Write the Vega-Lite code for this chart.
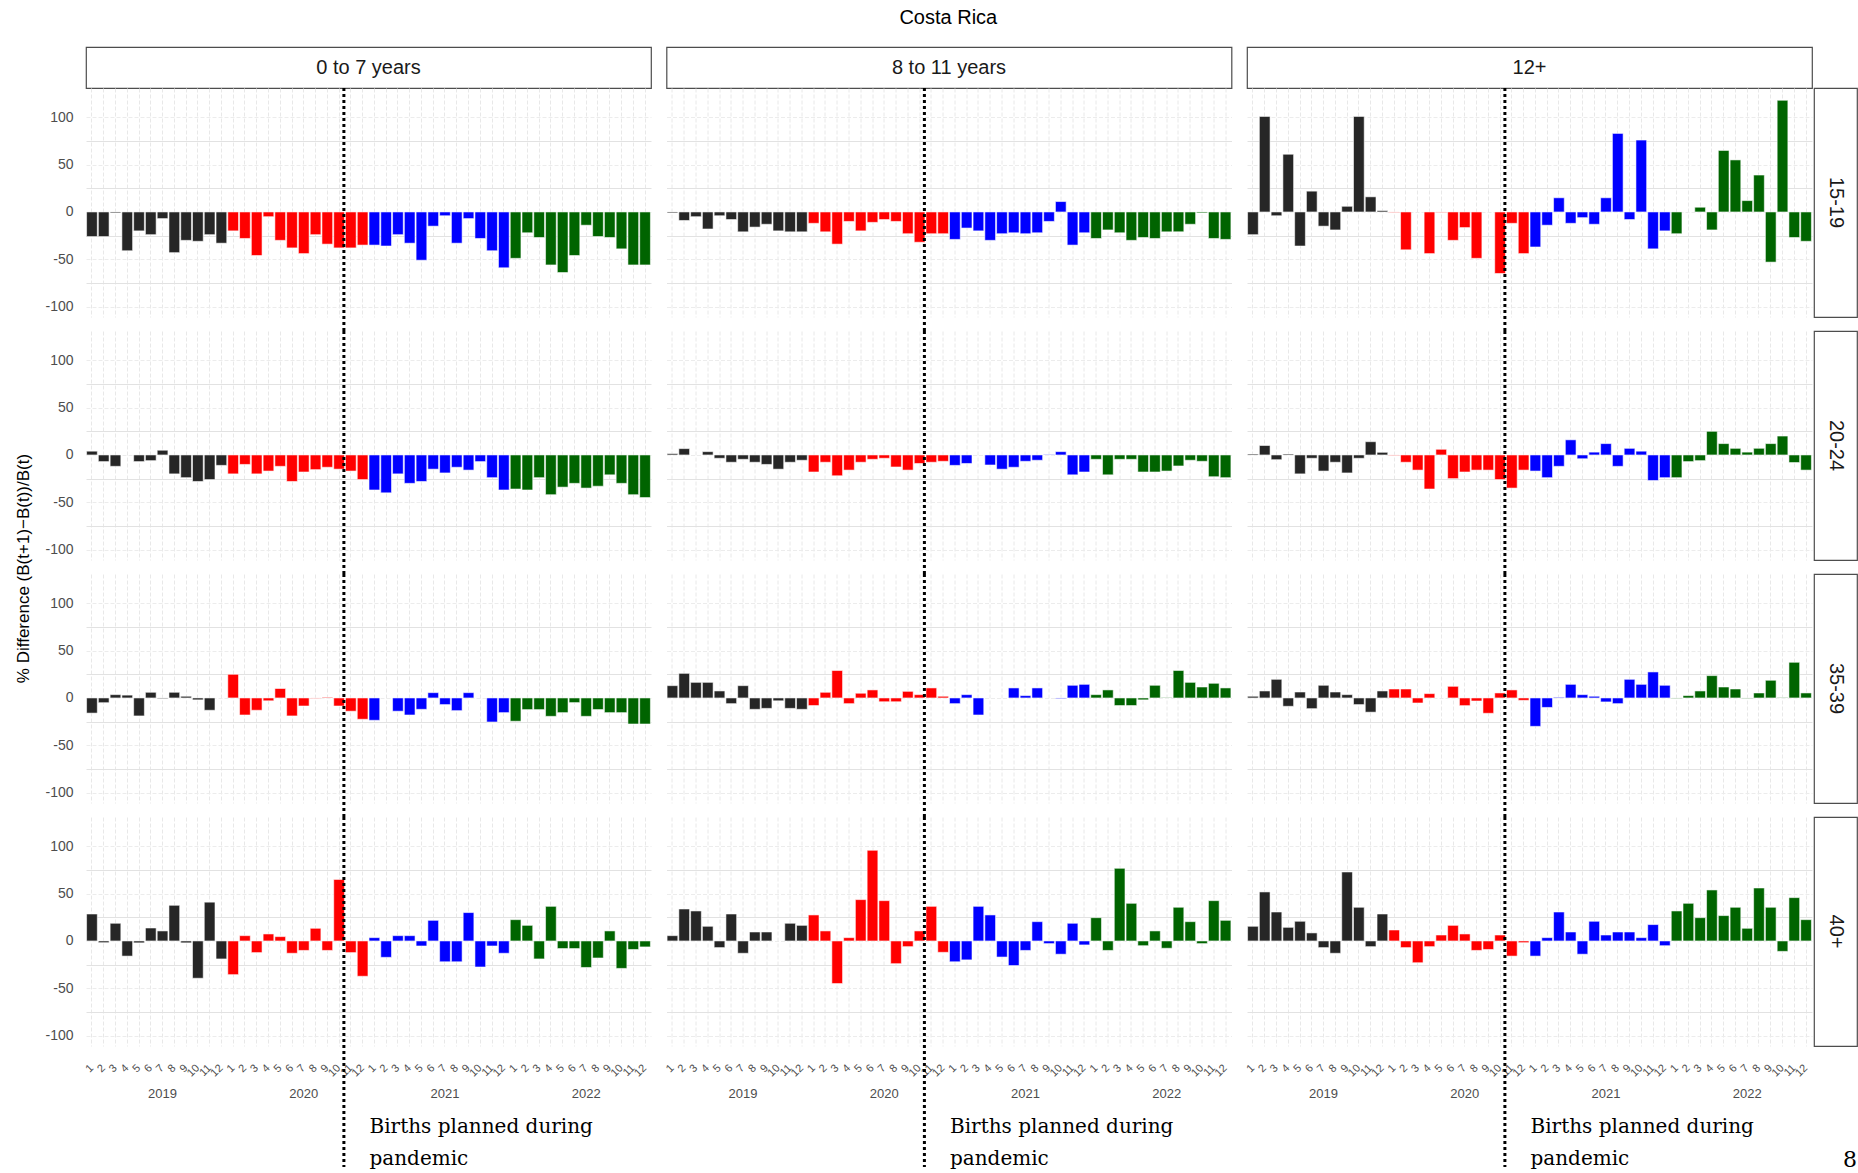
{
"$schema":"https://vega.github.io/schema/vega-lite/v6.json",
"background":"white",
"padding":{"left":14,"top":8,"right":0,"bottom":0},
"title":{"text":"Costa Rica","fontSize":20,"anchor":"middle","dx":12,"offset":18},
"config":{
"view":{"stroke":null},
"font":"Liberation Sans",
"axis":{"domain":false,"ticks":false,"labelColor":"#4d4d4d","labelFont":"Liberation Sans","gridColor":"#ebebeb","gridWidth":1,"labelOverlap":false,"labelBound":false,"labelFlush":false},
"title":{"font":"Liberation Sans","fontWeight":"normal","color":"#000000"}
},
"datasets":{
"p11":[{"m":"2019-01","yr":"2019","v":-26},{"m":"2019-02","yr":"2019","v":-26},{"m":"2019-03","yr":"2019","v":-1},{"m":"2019-04","yr":"2019","v":-41},{"m":"2019-05","yr":"2019","v":-20},{"m":"2019-06","yr":"2019","v":-24},{"m":"2019-07","yr":"2019","v":-7},{"m":"2019-08","yr":"2019","v":-43},{"m":"2019-09","yr":"2019","v":-30},{"m":"2019-10","yr":"2019","v":-31},{"m":"2019-11","yr":"2019","v":-24},{"m":"2019-12","yr":"2019","v":-33},
{"m":"2020-01","yr":"2020","v":-20},{"m":"2020-02","yr":"2020","v":-28},{"m":"2020-03","yr":"2020","v":-46},{"m":"2020-04","yr":"2020","v":-5},{"m":"2020-05","yr":"2020","v":-30},{"m":"2020-06","yr":"2020","v":-38},{"m":"2020-07","yr":"2020","v":-44},{"m":"2020-08","yr":"2020","v":-24},{"m":"2020-09","yr":"2020","v":-34},{"m":"2020-10","yr":"2020","v":-38},{"m":"2020-11","yr":"2020","v":-38},{"m":"2020-12","yr":"2020","v":-35},
{"m":"2021-01","yr":"2021","v":-35},{"m":"2021-02","yr":"2021","v":-36},{"m":"2021-03","yr":"2021","v":-24},{"m":"2021-04","yr":"2021","v":-33},{"m":"2021-05","yr":"2021","v":-51},{"m":"2021-06","yr":"2021","v":-15},{"m":"2021-07","yr":"2021","v":-4},{"m":"2021-08","yr":"2021","v":-33},{"m":"2021-09","yr":"2021","v":-7},{"m":"2021-10","yr":"2021","v":-28},{"m":"2021-11","yr":"2021","v":-41},{"m":"2021-12","yr":"2021","v":-59},
{"m":"2022-01","yr":"2022","v":-49},{"m":"2022-02","yr":"2022","v":-22},{"m":"2022-03","yr":"2022","v":-27},{"m":"2022-04","yr":"2022","v":-56},{"m":"2022-05","yr":"2022","v":-64},{"m":"2022-06","yr":"2022","v":-46},{"m":"2022-07","yr":"2022","v":-14},{"m":"2022-08","yr":"2022","v":-26},{"m":"2022-09","yr":"2022","v":-27},{"m":"2022-10","yr":"2022","v":-39},{"m":"2022-11","yr":"2022","v":-56},{"m":"2022-12","yr":"2022","v":-56}],
"p12":[{"m":"2019-01","yr":"2019","v":-1},{"m":"2019-02","yr":"2019","v":-9},{"m":"2019-03","yr":"2019","v":-5},{"m":"2019-04","yr":"2019","v":-18},{"m":"2019-05","yr":"2019","v":-4},{"m":"2019-06","yr":"2019","v":-8},{"m":"2019-07","yr":"2019","v":-21},{"m":"2019-08","yr":"2019","v":-16},{"m":"2019-09","yr":"2019","v":-13},{"m":"2019-10","yr":"2019","v":-20},{"m":"2019-11","yr":"2019","v":-21},{"m":"2019-12","yr":"2019","v":-21},
{"m":"2020-01","yr":"2020","v":-12},{"m":"2020-02","yr":"2020","v":-21},{"m":"2020-03","yr":"2020","v":-34},{"m":"2020-04","yr":"2020","v":-10},{"m":"2020-05","yr":"2020","v":-20},{"m":"2020-06","yr":"2020","v":-11},{"m":"2020-07","yr":"2020","v":-8},{"m":"2020-08","yr":"2020","v":-10},{"m":"2020-09","yr":"2020","v":-23},{"m":"2020-10","yr":"2020","v":-32},{"m":"2020-11","yr":"2020","v":-23},{"m":"2020-12","yr":"2020","v":-23},
{"m":"2021-01","yr":"2021","v":-29},{"m":"2021-02","yr":"2021","v":-17},{"m":"2021-03","yr":"2021","v":-20},{"m":"2021-04","yr":"2021","v":-30},{"m":"2021-05","yr":"2021","v":-23},{"m":"2021-06","yr":"2021","v":-22},{"m":"2021-07","yr":"2021","v":-23},{"m":"2021-08","yr":"2021","v":-22},{"m":"2021-09","yr":"2021","v":-10},{"m":"2021-10","yr":"2021","v":11},{"m":"2021-11","yr":"2021","v":-35},{"m":"2021-12","yr":"2021","v":-22},
{"m":"2022-01","yr":"2022","v":-28},{"m":"2022-02","yr":"2022","v":-19},{"m":"2022-03","yr":"2022","v":-22},{"m":"2022-04","yr":"2022","v":-30},{"m":"2022-05","yr":"2022","v":-27},{"m":"2022-06","yr":"2022","v":-28},{"m":"2022-07","yr":"2022","v":-21},{"m":"2022-08","yr":"2022","v":-21},{"m":"2022-09","yr":"2022","v":-13},{"m":"2022-10","yr":"2022","v":-1},{"m":"2022-11","yr":"2022","v":-28},{"m":"2022-12","yr":"2022","v":-29}],
"p13":[{"m":"2019-01","yr":"2019","v":-24},{"m":"2019-02","yr":"2019","v":101},{"m":"2019-03","yr":"2019","v":-4},{"m":"2019-04","yr":"2019","v":61},{"m":"2019-05","yr":"2019","v":-36},{"m":"2019-06","yr":"2019","v":22},{"m":"2019-07","yr":"2019","v":-15},{"m":"2019-08","yr":"2019","v":-19},{"m":"2019-09","yr":"2019","v":6},{"m":"2019-10","yr":"2019","v":101},{"m":"2019-11","yr":"2019","v":16},{"m":"2019-12","yr":"2019","v":1.4},
{"m":"2020-01","yr":"2020","v":-0.5},{"m":"2020-02","yr":"2020","v":-40},{"m":"2020-04","yr":"2020","v":-44},{"m":"2020-05","yr":"2020","v":-0.5},{"m":"2020-06","yr":"2020","v":-30},{"m":"2020-07","yr":"2020","v":-16.5},{"m":"2020-08","yr":"2020","v":-49},{"m":"2020-10","yr":"2020","v":-65},{"m":"2020-11","yr":"2020","v":-12},{"m":"2020-12","yr":"2020","v":-44},
{"m":"2021-01","yr":"2021","v":-37},{"m":"2021-02","yr":"2021","v":-14},{"m":"2021-03","yr":"2021","v":15},{"m":"2021-04","yr":"2021","v":-12},{"m":"2021-05","yr":"2021","v":-6},{"m":"2021-06","yr":"2021","v":-13},{"m":"2021-07","yr":"2021","v":15},{"m":"2021-08","yr":"2021","v":83},{"m":"2021-09","yr":"2021","v":-8},{"m":"2021-10","yr":"2021","v":76},{"m":"2021-11","yr":"2021","v":-39},{"m":"2021-12","yr":"2021","v":-20},
{"m":"2022-01","yr":"2022","v":-23},{"m":"2022-03","yr":"2022","v":5},{"m":"2022-04","yr":"2022","v":-19},{"m":"2022-05","yr":"2022","v":65},{"m":"2022-06","yr":"2022","v":55},{"m":"2022-07","yr":"2022","v":12},{"m":"2022-08","yr":"2022","v":39},{"m":"2022-09","yr":"2022","v":-53},{"m":"2022-10","yr":"2022","v":118},{"m":"2022-11","yr":"2022","v":-27},{"m":"2022-12","yr":"2022","v":-31}],
"p21":[{"m":"2019-01","yr":"2019","v":4},{"m":"2019-02","yr":"2019","v":-7},{"m":"2019-03","yr":"2019","v":-12},{"m":"2019-05","yr":"2019","v":-7},{"m":"2019-06","yr":"2019","v":-6},{"m":"2019-07","yr":"2019","v":5},{"m":"2019-08","yr":"2019","v":-20},{"m":"2019-09","yr":"2019","v":-24},{"m":"2019-10","yr":"2019","v":-28},{"m":"2019-11","yr":"2019","v":-26},{"m":"2019-12","yr":"2019","v":-11},
{"m":"2020-01","yr":"2020","v":-20},{"m":"2020-02","yr":"2020","v":-10},{"m":"2020-03","yr":"2020","v":-20},{"m":"2020-04","yr":"2020","v":-17},{"m":"2020-05","yr":"2020","v":-12},{"m":"2020-06","yr":"2020","v":-28},{"m":"2020-07","yr":"2020","v":-18},{"m":"2020-08","yr":"2020","v":-15.5},{"m":"2020-09","yr":"2020","v":-13},{"m":"2020-10","yr":"2020","v":-15},{"m":"2020-11","yr":"2020","v":-17},{"m":"2020-12","yr":"2020","v":-26},
{"m":"2021-01","yr":"2021","v":-37},{"m":"2021-02","yr":"2021","v":-40},{"m":"2021-03","yr":"2021","v":-20},{"m":"2021-04","yr":"2021","v":-30},{"m":"2021-05","yr":"2021","v":-28},{"m":"2021-06","yr":"2021","v":-15},{"m":"2021-07","yr":"2021","v":-19},{"m":"2021-08","yr":"2021","v":-13},{"m":"2021-09","yr":"2021","v":-16},{"m":"2021-10","yr":"2021","v":-7},{"m":"2021-11","yr":"2021","v":-24},{"m":"2021-12","yr":"2021","v":-37},
{"m":"2022-01","yr":"2022","v":-36},{"m":"2022-02","yr":"2022","v":-37},{"m":"2022-03","yr":"2022","v":-24},{"m":"2022-04","yr":"2022","v":-42},{"m":"2022-05","yr":"2022","v":-34},{"m":"2022-06","yr":"2022","v":-30},{"m":"2022-07","yr":"2022","v":-35},{"m":"2022-08","yr":"2022","v":-33},{"m":"2022-09","yr":"2022","v":-21},{"m":"2022-10","yr":"2022","v":-30},{"m":"2022-11","yr":"2022","v":-42},{"m":"2022-12","yr":"2022","v":-45}],
"p22":[{"m":"2019-01","yr":"2019","v":1.4},{"m":"2019-02","yr":"2019","v":6.7},{"m":"2019-04","yr":"2019","v":3.5},{"m":"2019-05","yr":"2019","v":-3.5},{"m":"2019-06","yr":"2019","v":-7.7},{"m":"2019-07","yr":"2019","v":-4.6},{"m":"2019-08","yr":"2019","v":-7.7},{"m":"2019-09","yr":"2019","v":-10},{"m":"2019-10","yr":"2019","v":-15},{"m":"2019-11","yr":"2019","v":-7.7},{"m":"2019-12","yr":"2019","v":-5.6},
{"m":"2020-01","yr":"2020","v":-18},{"m":"2020-02","yr":"2020","v":-7.7},{"m":"2020-03","yr":"2020","v":-22},{"m":"2020-04","yr":"2020","v":-16},{"m":"2020-05","yr":"2020","v":-7.7},{"m":"2020-06","yr":"2020","v":-4.6},{"m":"2020-07","yr":"2020","v":-3.5},{"m":"2020-08","yr":"2020","v":-12.7},{"m":"2020-09","yr":"2020","v":-16},{"m":"2020-10","yr":"2020","v":-9},{"m":"2020-11","yr":"2020","v":-7.7},{"m":"2020-12","yr":"2020","v":-6.7},
{"m":"2021-01","yr":"2021","v":-11},{"m":"2021-02","yr":"2021","v":-9},{"m":"2021-04","yr":"2021","v":-10.6},{"m":"2021-05","yr":"2021","v":-15},{"m":"2021-06","yr":"2021","v":-13},{"m":"2021-07","yr":"2021","v":-6.7},{"m":"2021-08","yr":"2021","v":-5.6},{"m":"2021-09","yr":"2021","v":0.5},{"m":"2021-10","yr":"2021","v":3.5},{"m":"2021-11","yr":"2021","v":-21},{"m":"2021-12","yr":"2021","v":-18},
{"m":"2022-01","yr":"2022","v":-4.6},{"m":"2022-02","yr":"2022","v":-21},{"m":"2022-03","yr":"2022","v":-4.6},{"m":"2022-04","yr":"2022","v":-4.6},{"m":"2022-05","yr":"2022","v":-18},{"m":"2022-06","yr":"2022","v":-18},{"m":"2022-07","yr":"2022","v":-17},{"m":"2022-08","yr":"2022","v":-11.6},{"m":"2022-09","yr":"2022","v":-5.6},{"m":"2022-10","yr":"2022","v":-6.7},{"m":"2022-11","yr":"2022","v":-23},{"m":"2022-12","yr":"2022","v":-24}],
"p23":[{"m":"2019-01","yr":"2019","v":1},{"m":"2019-02","yr":"2019","v":10},{"m":"2019-03","yr":"2019","v":-5},{"m":"2019-04","yr":"2019","v":1},{"m":"2019-05","yr":"2019","v":-20},{"m":"2019-06","yr":"2019","v":-3.5},{"m":"2019-07","yr":"2019","v":-17},{"m":"2019-08","yr":"2019","v":-7.7},{"m":"2019-09","yr":"2019","v":-19},{"m":"2019-10","yr":"2019","v":-3.5},{"m":"2019-11","yr":"2019","v":14},{"m":"2019-12","yr":"2019","v":2.8},
{"m":"2020-01","yr":"2020","v":-0.5},{"m":"2020-02","yr":"2020","v":-7.7},{"m":"2020-03","yr":"2020","v":-16},{"m":"2020-04","yr":"2020","v":-36},{"m":"2020-05","yr":"2020","v":6},{"m":"2020-06","yr":"2020","v":-25},{"m":"2020-07","yr":"2020","v":-18},{"m":"2020-08","yr":"2020","v":-16},{"m":"2020-09","yr":"2020","v":-16},{"m":"2020-10","yr":"2020","v":-26},{"m":"2020-11","yr":"2020","v":-35},{"m":"2020-12","yr":"2020","v":-16},
{"m":"2021-01","yr":"2021","v":-17},{"m":"2021-02","yr":"2021","v":-24},{"m":"2021-03","yr":"2021","v":-12},{"m":"2021-04","yr":"2021","v":16},{"m":"2021-05","yr":"2021","v":-4},{"m":"2021-06","yr":"2021","v":3},{"m":"2021-07","yr":"2021","v":12},{"m":"2021-08","yr":"2021","v":-12},{"m":"2021-09","yr":"2021","v":7},{"m":"2021-10","yr":"2021","v":4},{"m":"2021-11","yr":"2021","v":-27},{"m":"2021-12","yr":"2021","v":-24},
{"m":"2022-01","yr":"2022","v":-24},{"m":"2022-02","yr":"2022","v":-7},{"m":"2022-03","yr":"2022","v":-6},{"m":"2022-04","yr":"2022","v":25},{"m":"2022-05","yr":"2022","v":12},{"m":"2022-06","yr":"2022","v":7},{"m":"2022-07","yr":"2022","v":3},{"m":"2022-08","yr":"2022","v":7},{"m":"2022-09","yr":"2022","v":12},{"m":"2022-10","yr":"2022","v":20},{"m":"2022-11","yr":"2022","v":-8},{"m":"2022-12","yr":"2022","v":-16}],
"p31":[{"m":"2019-01","yr":"2019","v":-16},{"m":"2019-02","yr":"2019","v":-5},{"m":"2019-03","yr":"2019","v":3.5},{"m":"2019-04","yr":"2019","v":3},{"m":"2019-05","yr":"2019","v":-19},{"m":"2019-06","yr":"2019","v":6},{"m":"2019-07","yr":"2019","v":-0.7},{"m":"2019-08","yr":"2019","v":6},{"m":"2019-09","yr":"2019","v":1.8},{"m":"2019-10","yr":"2019","v":-2},{"m":"2019-11","yr":"2019","v":-13},
{"m":"2020-01","yr":"2020","v":25},{"m":"2020-02","yr":"2020","v":-18},{"m":"2020-03","yr":"2020","v":-13},{"m":"2020-04","yr":"2020","v":-3},{"m":"2020-05","yr":"2020","v":10},{"m":"2020-06","yr":"2020","v":-19},{"m":"2020-07","yr":"2020","v":-8.5},{"m":"2020-08","yr":"2020","v":-0.4},{"m":"2020-09","yr":"2020","v":0.7},{"m":"2020-10","yr":"2020","v":-8.5},{"m":"2020-11","yr":"2020","v":-14},{"m":"2020-12","yr":"2020","v":-22.5},
{"m":"2021-01","yr":"2021","v":-23.6},{"m":"2021-03","yr":"2021","v":-14},{"m":"2021-04","yr":"2021","v":-18},{"m":"2021-05","yr":"2021","v":-12},{"m":"2021-06","yr":"2021","v":5.6},{"m":"2021-07","yr":"2021","v":-7},{"m":"2021-08","yr":"2021","v":-13.4},{"m":"2021-09","yr":"2021","v":5.6},{"m":"2021-11","yr":"2021","v":-25.4},{"m":"2021-12","yr":"2021","v":-15.5},
{"m":"2022-01","yr":"2022","v":-24.6},{"m":"2022-02","yr":"2022","v":-12.3},{"m":"2022-03","yr":"2022","v":-12.3},{"m":"2022-04","yr":"2022","v":-19.4},{"m":"2022-05","yr":"2022","v":-15.5},{"m":"2022-06","yr":"2022","v":-4.9},{"m":"2022-07","yr":"2022","v":-19.4},{"m":"2022-08","yr":"2022","v":-12.3},{"m":"2022-09","yr":"2022","v":-15.5},{"m":"2022-10","yr":"2022","v":-15.5},{"m":"2022-11","yr":"2022","v":-27.5},{"m":"2022-12","yr":"2022","v":-27.5}],
"p32":[{"m":"2019-01","yr":"2019","v":13},{"m":"2019-02","yr":"2019","v":26},{"m":"2019-03","yr":"2019","v":16.5},{"m":"2019-04","yr":"2019","v":16.5},{"m":"2019-05","yr":"2019","v":7.4},{"m":"2019-06","yr":"2019","v":-6},{"m":"2019-07","yr":"2019","v":13},{"m":"2019-08","yr":"2019","v":-12},{"m":"2019-09","yr":"2019","v":-11},{"m":"2019-10","yr":"2019","v":-3},{"m":"2019-11","yr":"2019","v":-11},{"m":"2019-12","yr":"2019","v":-12},
{"m":"2020-01","yr":"2020","v":-8},{"m":"2020-02","yr":"2020","v":6},{"m":"2020-03","yr":"2020","v":29},{"m":"2020-04","yr":"2020","v":-6},{"m":"2020-05","yr":"2020","v":5},{"m":"2020-06","yr":"2020","v":8.5},{"m":"2020-07","yr":"2020","v":-4},{"m":"2020-08","yr":"2020","v":-4},{"m":"2020-09","yr":"2020","v":7},{"m":"2020-10","yr":"2020","v":3.5},{"m":"2020-11","yr":"2020","v":10.6},{"m":"2020-12","yr":"2020","v":1.8},
{"m":"2021-01","yr":"2021","v":-6},{"m":"2021-02","yr":"2021","v":3.5},{"m":"2021-03","yr":"2021","v":-18},{"m":"2021-06","yr":"2021","v":10.6},{"m":"2021-07","yr":"2021","v":2.5},{"m":"2021-08","yr":"2021","v":10.6},{"m":"2021-10","yr":"2021","v":-0.7},{"m":"2021-11","yr":"2021","v":13.4},{"m":"2021-12","yr":"2021","v":14.4},
{"m":"2022-01","yr":"2022","v":3.5},{"m":"2022-02","yr":"2022","v":8.5},{"m":"2022-03","yr":"2022","v":-8},{"m":"2022-04","yr":"2022","v":-8},{"m":"2022-05","yr":"2022","v":-2},{"m":"2022-06","yr":"2022","v":13.4},{"m":"2022-07","yr":"2022","v":0.5},{"m":"2022-08","yr":"2022","v":29},{"m":"2022-09","yr":"2022","v":16.5},{"m":"2022-10","yr":"2022","v":11.6},{"m":"2022-11","yr":"2022","v":15.5},{"m":"2022-12","yr":"2022","v":10.6}],
"p33":[{"m":"2019-01","yr":"2019","v":1.8},{"m":"2019-02","yr":"2019","v":7.4},{"m":"2019-03","yr":"2019","v":19.7},{"m":"2019-04","yr":"2019","v":-8.8},{"m":"2019-05","yr":"2019","v":6.3},{"m":"2019-06","yr":"2019","v":-11.3},{"m":"2019-07","yr":"2019","v":13.4},{"m":"2019-08","yr":"2019","v":6.3},{"m":"2019-09","yr":"2019","v":3.5},{"m":"2019-10","yr":"2019","v":-7},{"m":"2019-11","yr":"2019","v":-15},{"m":"2019-12","yr":"2019","v":7.4},
{"m":"2020-01","yr":"2020","v":9.5},{"m":"2020-02","yr":"2020","v":9.5},{"m":"2020-03","yr":"2020","v":-5.3},{"m":"2020-04","yr":"2020","v":4.6},{"m":"2020-06","yr":"2020","v":12.3},{"m":"2020-07","yr":"2020","v":-8.1},{"m":"2020-08","yr":"2020","v":-3.2},{"m":"2020-09","yr":"2020","v":-16.2},{"m":"2020-10","yr":"2020","v":5.3},{"m":"2020-11","yr":"2020","v":8.5},{"m":"2020-12","yr":"2020","v":-2.5},
{"m":"2021-01","yr":"2021","v":-30},{"m":"2021-02","yr":"2021","v":-10},{"m":"2021-03","yr":"2021","v":0.7},{"m":"2021-04","yr":"2021","v":14.4},{"m":"2021-05","yr":"2021","v":3.5},{"m":"2021-06","yr":"2021","v":1.8},{"m":"2021-07","yr":"2021","v":-4.2},{"m":"2021-08","yr":"2021","v":-6},{"m":"2021-09","yr":"2021","v":19.7},{"m":"2021-10","yr":"2021","v":14.4},{"m":"2021-11","yr":"2021","v":27.5},{"m":"2021-12","yr":"2021","v":13.4},
{"m":"2022-01","yr":"2022","v":-0.5},{"m":"2022-02","yr":"2022","v":2.5},{"m":"2022-03","yr":"2022","v":7.4},{"m":"2022-04","yr":"2022","v":23.6},{"m":"2022-05","yr":"2022","v":11.6},{"m":"2022-06","yr":"2022","v":9.5},{"m":"2022-07","yr":"2022","v":-0.5},{"m":"2022-08","yr":"2022","v":5.3},{"m":"2022-09","yr":"2022","v":18.7},{"m":"2022-10","yr":"2022","v":0.5},{"m":"2022-11","yr":"2022","v":37.7},{"m":"2022-12","yr":"2022","v":5.3}],
"p41":[{"m":"2019-01","yr":"2019","v":28.5},{"m":"2019-02","yr":"2019","v":-1.8},{"m":"2019-03","yr":"2019","v":18.7},{"m":"2019-04","yr":"2019","v":-16},{"m":"2019-05","yr":"2019","v":-2},{"m":"2019-06","yr":"2019","v":13.7},{"m":"2019-07","yr":"2019","v":10.6},{"m":"2019-08","yr":"2019","v":37.7},{"m":"2019-09","yr":"2019","v":-2},{"m":"2019-10","yr":"2019","v":-39.4},{"m":"2019-11","yr":"2019","v":41},{"m":"2019-12","yr":"2019","v":-19},
{"m":"2020-01","yr":"2020","v":-35.6},{"m":"2020-02","yr":"2020","v":5.6},{"m":"2020-03","yr":"2020","v":-12.3},{"m":"2020-04","yr":"2020","v":7.4},{"m":"2020-05","yr":"2020","v":4.6},{"m":"2020-06","yr":"2020","v":-13},{"m":"2020-07","yr":"2020","v":-10},{"m":"2020-08","yr":"2020","v":13.4},{"m":"2020-09","yr":"2020","v":-10},{"m":"2020-10","yr":"2020","v":65},{"m":"2020-11","yr":"2020","v":-12.3},{"m":"2020-12","yr":"2020","v":-37.3},
{"m":"2021-01","yr":"2021","v":3.5},{"m":"2021-02","yr":"2021","v":-17.3},{"m":"2021-03","yr":"2021","v":5.6},{"m":"2021-04","yr":"2021","v":5.6},{"m":"2021-05","yr":"2021","v":-5.3},{"m":"2021-06","yr":"2021","v":21.8},{"m":"2021-07","yr":"2021","v":-22},{"m":"2021-08","yr":"2021","v":-22},{"m":"2021-09","yr":"2021","v":30},{"m":"2021-10","yr":"2021","v":-27.5},{"m":"2021-11","yr":"2021","v":-5.3},{"m":"2021-12","yr":"2021","v":-13},
{"m":"2022-01","yr":"2022","v":22.5},{"m":"2022-02","yr":"2022","v":16.5},{"m":"2022-03","yr":"2022","v":-19},{"m":"2022-04","yr":"2022","v":36.6},{"m":"2022-05","yr":"2022","v":-8},{"m":"2022-06","yr":"2022","v":-8},{"m":"2022-07","yr":"2022","v":-28},{"m":"2022-08","yr":"2022","v":-18},{"m":"2022-09","yr":"2022","v":10.6},{"m":"2022-10","yr":"2022","v":-29},{"m":"2022-11","yr":"2022","v":-9},{"m":"2022-12","yr":"2022","v":-6.3}],
"p42":[{"m":"2019-01","yr":"2019","v":5.6},{"m":"2019-02","yr":"2019","v":33.8},{"m":"2019-03","yr":"2019","v":31.7},{"m":"2019-04","yr":"2019","v":15.5},{"m":"2019-05","yr":"2019","v":-7},{"m":"2019-06","yr":"2019","v":28.5},{"m":"2019-07","yr":"2019","v":-13},{"m":"2019-08","yr":"2019","v":9.5},{"m":"2019-09","yr":"2019","v":9.5},{"m":"2019-11","yr":"2019","v":18.7},{"m":"2019-12","yr":"2019","v":16.5},
{"m":"2020-01","yr":"2020","v":27.5},{"m":"2020-02","yr":"2020","v":10.6},{"m":"2020-03","yr":"2020","v":-45},{"m":"2020-04","yr":"2020","v":3.5},{"m":"2020-05","yr":"2020","v":43.7},{"m":"2020-06","yr":"2020","v":95.8},{"m":"2020-07","yr":"2020","v":42.6},{"m":"2020-08","yr":"2020","v":-24},{"m":"2020-09","yr":"2020","v":-6},{"m":"2020-10","yr":"2020","v":10.6},{"m":"2020-11","yr":"2020","v":36.6},{"m":"2020-12","yr":"2020","v":-12},
{"m":"2021-01","yr":"2021","v":-22},{"m":"2021-02","yr":"2021","v":-20},{"m":"2021-03","yr":"2021","v":36.6},{"m":"2021-04","yr":"2021","v":27.5},{"m":"2021-05","yr":"2021","v":-17},{"m":"2021-06","yr":"2021","v":-26},{"m":"2021-07","yr":"2021","v":-10},{"m":"2021-08","yr":"2021","v":20.4},{"m":"2021-09","yr":"2021","v":-2.8},{"m":"2021-10","yr":"2021","v":-14},{"m":"2021-11","yr":"2021","v":18.7},{"m":"2021-12","yr":"2021","v":-4.2},
{"m":"2022-01","yr":"2022","v":24.6},{"m":"2022-02","yr":"2022","v":-10},{"m":"2022-03","yr":"2022","v":76.8},{"m":"2022-04","yr":"2022","v":39.8},{"m":"2022-05","yr":"2022","v":-5},{"m":"2022-06","yr":"2022","v":10.6},{"m":"2022-07","yr":"2022","v":-7.7},{"m":"2022-08","yr":"2022","v":35.6},{"m":"2022-09","yr":"2022","v":20.4},{"m":"2022-10","yr":"2022","v":-2.8},{"m":"2022-11","yr":"2022","v":42.6},{"m":"2022-12","yr":"2022","v":21.8}],
"p43":[{"m":"2019-01","yr":"2019","v":15.5},{"m":"2019-02","yr":"2019","v":51.8},{"m":"2019-03","yr":"2019","v":30.6},{"m":"2019-04","yr":"2019","v":14.4},{"m":"2019-05","yr":"2019","v":20.8},{"m":"2019-06","yr":"2019","v":8.5},{"m":"2019-07","yr":"2019","v":-7},{"m":"2019-08","yr":"2019","v":-13},{"m":"2019-09","yr":"2019","v":72.9},{"m":"2019-10","yr":"2019","v":35.6},{"m":"2019-11","yr":"2019","v":-6},{"m":"2019-12","yr":"2019","v":28.5},
{"m":"2020-01","yr":"2020","v":11.6},{"m":"2020-02","yr":"2020","v":-7},{"m":"2020-03","yr":"2020","v":-23},{"m":"2020-04","yr":"2020","v":-6},{"m":"2020-05","yr":"2020","v":6.3},{"m":"2020-06","yr":"2020","v":16.5},{"m":"2020-07","yr":"2020","v":7.4},{"m":"2020-08","yr":"2020","v":-10},{"m":"2020-09","yr":"2020","v":-9},{"m":"2020-10","yr":"2020","v":6.3},{"m":"2020-11","yr":"2020","v":-16},{"m":"2020-12","yr":"2020","v":-1.8},
{"m":"2021-01","yr":"2021","v":-16},{"m":"2021-02","yr":"2021","v":3.5},{"m":"2021-03","yr":"2021","v":30.6},{"m":"2021-04","yr":"2021","v":9.5},{"m":"2021-05","yr":"2021","v":-14},{"m":"2021-06","yr":"2021","v":20.8},{"m":"2021-07","yr":"2021","v":6.3},{"m":"2021-08","yr":"2021","v":9.5},{"m":"2021-09","yr":"2021","v":9.5},{"m":"2021-10","yr":"2021","v":3.5},{"m":"2021-11","yr":"2021","v":17.3},{"m":"2021-12","yr":"2021","v":-5},
{"m":"2022-01","yr":"2022","v":31.7},{"m":"2022-02","yr":"2022","v":39.8},{"m":"2022-03","yr":"2022","v":24.6},{"m":"2022-04","yr":"2022","v":53.9},{"m":"2022-05","yr":"2022","v":26.8},{"m":"2022-06","yr":"2022","v":35.6},{"m":"2022-07","yr":"2022","v":13.4},{"m":"2022-08","yr":"2022","v":56},{"m":"2022-09","yr":"2022","v":35.6},{"m":"2022-10","yr":"2022","v":-11},{"m":"2022-11","yr":"2022","v":45.8},{"m":"2022-12","yr":"2022","v":22.5}]
},
"hconcat":[
{"vconcat":[
{"width":565,"height":41,"data":{"values":[{"t":"0 to 7 years"}]},"mark":{"type":"text","fontSize":20,"color":"#1a1a1a"},"encoding":{"text":{"field":"t","type":"nominal"}},"view":{"stroke":"#4d4d4d","strokeWidth":1.2,"fill":"#ffffff"}},
{"vconcat":[
{"width":565,"height":229,"data":{"name":"p11"},"layer":[
{"mark":{"type":"bar","stroke":"#ffffff","strokeWidth":0.8,"strokeOpacity":0.7},"encoding":{"x":{"field":"m","type":"ordinal","scale":{"domain":["2019-01","2019-02","2019-03","2019-04","2019-05","2019-06","2019-07","2019-08","2019-09","2019-10","2019-11","2019-12","2020-01","2020-02","2020-03","2020-04","2020-05","2020-06","2020-07","2020-08","2020-09","2020-10","2020-11","2020-12","2021-01","2021-02","2021-03","2021-04","2021-05","2021-06","2021-07","2021-08","2021-09","2021-10","2021-11","2021-12","2022-01","2022-02","2022-03","2022-04","2022-05","2022-06","2022-07","2022-08","2022-09","2022-10","2022-11","2022-12"],"paddingInner":0.09,"paddingOuter":0.05},"axis":{"title":null,"labels":false,"grid":true,"gridDash":[4,2],"gridColor":"#e8e8e8"}},"y":{"field":"v","type":"quantitative","scale":{"domain":[-111,131],"nice":false},"axis":{"title":null,"values":[-100,-50,0,50,100],"labelExpr":"'' + datum.value","labelFontSize":14,"labelPadding":13,"grid":true,"gridDash":[4,2],"gridColor":"#ececec"}},"color":{"field":"yr","type":"nominal","scale":{"domain":["2019","2020","2021","2022"],"range":["#262626","#ff0000","#0000ff","#006400"]},"legend":null}}},
{"data":{"values":[{}]},"mark":{"type":"rule","color":"#000000","strokeWidth":3,"strokeDash":[3,3]},"encoding":{"x":{"datum":"2020-10","type":"ordinal","bandPosition":0.95,"axis":null},"y":{"datum":131,"type":"quantitative","axis":{"title":null,"values":[-75,-25,25,75],"labels":false,"grid":true,"gridColor":"#e2e2e2","orient":"left"}},"y2":{"datum":-126}}}
],"resolve":{"axis":{"x":"independent","y":"independent"}}},
{"width":565,"height":229,"data":{"name":"p21"},"layer":[
{"mark":{"type":"bar","stroke":"#ffffff","strokeWidth":0.8,"strokeOpacity":0.7},"encoding":{"x":{"field":"m","type":"ordinal","scale":{"domain":["2019-01","2019-02","2019-03","2019-04","2019-05","2019-06","2019-07","2019-08","2019-09","2019-10","2019-11","2019-12","2020-01","2020-02","2020-03","2020-04","2020-05","2020-06","2020-07","2020-08","2020-09","2020-10","2020-11","2020-12","2021-01","2021-02","2021-03","2021-04","2021-05","2021-06","2021-07","2021-08","2021-09","2021-10","2021-11","2021-12","2022-01","2022-02","2022-03","2022-04","2022-05","2022-06","2022-07","2022-08","2022-09","2022-10","2022-11","2022-12"],"paddingInner":0.09,"paddingOuter":0.05},"axis":{"title":null,"labels":false,"grid":true,"gridDash":[4,2],"gridColor":"#e8e8e8"}},"y":{"field":"v","type":"quantitative","scale":{"domain":[-111,131],"nice":false},"axis":{"title":"% Difference (B(t+1)−B(t))/B(t)","titleFontSize":17,"titleFontWeight":"normal","titleColor":"#000000","titleY":237,"titlePadding":12,"values":[-100,-50,0,50,100],"labelExpr":"'' + datum.value","labelFontSize":14,"labelPadding":13,"grid":true,"gridDash":[4,2],"gridColor":"#ececec"}},"color":{"field":"yr","type":"nominal","scale":{"domain":["2019","2020","2021","2022"],"range":["#262626","#ff0000","#0000ff","#006400"]},"legend":null}}},
{"data":{"values":[{}]},"mark":{"type":"rule","color":"#000000","strokeWidth":3,"strokeDash":[3,3]},"encoding":{"x":{"datum":"2020-10","type":"ordinal","bandPosition":0.95,"axis":null},"y":{"datum":131,"type":"quantitative","axis":{"title":null,"values":[-75,-25,25,75],"labels":false,"grid":true,"gridColor":"#e2e2e2","orient":"left"}},"y2":{"datum":-126}}}
],"resolve":{"axis":{"x":"independent","y":"independent"}}},
{"width":565,"height":229,"data":{"name":"p31"},"layer":[
{"mark":{"type":"bar","stroke":"#ffffff","strokeWidth":0.8,"strokeOpacity":0.7},"encoding":{"x":{"field":"m","type":"ordinal","scale":{"domain":["2019-01","2019-02","2019-03","2019-04","2019-05","2019-06","2019-07","2019-08","2019-09","2019-10","2019-11","2019-12","2020-01","2020-02","2020-03","2020-04","2020-05","2020-06","2020-07","2020-08","2020-09","2020-10","2020-11","2020-12","2021-01","2021-02","2021-03","2021-04","2021-05","2021-06","2021-07","2021-08","2021-09","2021-10","2021-11","2021-12","2022-01","2022-02","2022-03","2022-04","2022-05","2022-06","2022-07","2022-08","2022-09","2022-10","2022-11","2022-12"],"paddingInner":0.09,"paddingOuter":0.05},"axis":{"title":null,"labels":false,"grid":true,"gridDash":[4,2],"gridColor":"#e8e8e8"}},"y":{"field":"v","type":"quantitative","scale":{"domain":[-111,131],"nice":false},"axis":{"title":null,"values":[-100,-50,0,50,100],"labelExpr":"'' + datum.value","labelFontSize":14,"labelPadding":13,"grid":true,"gridDash":[4,2],"gridColor":"#ececec"}},"color":{"field":"yr","type":"nominal","scale":{"domain":["2019","2020","2021","2022"],"range":["#262626","#ff0000","#0000ff","#006400"]},"legend":null}}},
{"data":{"values":[{}]},"mark":{"type":"rule","color":"#000000","strokeWidth":3,"strokeDash":[3,3]},"encoding":{"x":{"datum":"2020-10","type":"ordinal","bandPosition":0.95,"axis":null},"y":{"datum":131,"type":"quantitative","axis":{"title":null,"values":[-75,-25,25,75],"labels":false,"grid":true,"gridColor":"#e2e2e2","orient":"left"}},"y2":{"datum":-126}}}
],"resolve":{"axis":{"x":"independent","y":"independent"}}},
{"width":565,"height":229,"data":{"name":"p41"},"layer":[
{"mark":{"type":"bar","stroke":"#ffffff","strokeWidth":0.8,"strokeOpacity":0.7},"encoding":{"x":{"field":"m","type":"ordinal","scale":{"domain":["2019-01","2019-02","2019-03","2019-04","2019-05","2019-06","2019-07","2019-08","2019-09","2019-10","2019-11","2019-12","2020-01","2020-02","2020-03","2020-04","2020-05","2020-06","2020-07","2020-08","2020-09","2020-10","2020-11","2020-12","2021-01","2021-02","2021-03","2021-04","2021-05","2021-06","2021-07","2021-08","2021-09","2021-10","2021-11","2021-12","2022-01","2022-02","2022-03","2022-04","2022-05","2022-06","2022-07","2022-08","2022-09","2022-10","2022-11","2022-12"],"paddingInner":0.09,"paddingOuter":0.05},"axis":{"title":null,"labelExpr":"'' + toNumber(slice(datum.value,5))","labelAngle":-45,"labelAlign":"right","labelBaseline":"middle","labelFontSize":11,"labelPadding":20,"grid":true,"gridDash":[4,2],"gridColor":"#e8e8e8"}},"y":{"field":"v","type":"quantitative","scale":{"domain":[-111,131],"nice":false},"axis":{"title":null,"values":[-100,-50,0,50,100],"labelExpr":"'' + datum.value","labelFontSize":14,"labelPadding":13,"grid":true,"gridDash":[4,2],"gridColor":"#ececec"}},"color":{"field":"yr","type":"nominal","scale":{"domain":["2019","2020","2021","2022"],"range":["#262626","#ff0000","#0000ff","#006400"]},"legend":null}}},
{"data":{"values":[{}]},"mark":{"type":"rule","color":"#000000","strokeWidth":3,"strokeDash":[3,3]},"encoding":{"x":{"datum":"2020-10","type":"ordinal","bandPosition":0.95,"axis":{"orient":"bottom","grid":false,"labelExpr":"slice(datum.value,5)=='07' ? slice(datum.value,0,4) : ''","labelAngle":0,"labelPadding":41,"labelDx":-5.9,"labelFontSize":13,"title":["Births planned during","pandemic"],"titleFont":"DejaVu Serif","titleFontSize":20,"titleFontWeight":"normal","titleColor":"#000000","titleAlign":"left","titleX":283,"titleY":70,"titleBaseline":"top","titleLineHeight":32}},"y":{"datum":131,"type":"quantitative","axis":{"title":null,"values":[-75,-25,25,75],"labels":false,"grid":true,"gridColor":"#e2e2e2","orient":"left"}},"y2":{"datum":-239}}}
],"resolve":{"axis":{"x":"independent","y":"independent"}}}
],"spacing":14,"bounds":"flush"}
],"spacing":0,"bounds":"flush"},
{"vconcat":[
{"width":565,"height":41,"data":{"values":[{"t":"8 to 11 years"}]},"mark":{"type":"text","fontSize":20,"color":"#1a1a1a"},"encoding":{"text":{"field":"t","type":"nominal"}},"view":{"stroke":"#4d4d4d","strokeWidth":1.2,"fill":"#ffffff"}},
{"vconcat":[
{"width":565,"height":229,"data":{"name":"p12"},"layer":[
{"mark":{"type":"bar","stroke":"#ffffff","strokeWidth":0.8,"strokeOpacity":0.7},"encoding":{"x":{"field":"m","type":"ordinal","scale":{"domain":["2019-01","2019-02","2019-03","2019-04","2019-05","2019-06","2019-07","2019-08","2019-09","2019-10","2019-11","2019-12","2020-01","2020-02","2020-03","2020-04","2020-05","2020-06","2020-07","2020-08","2020-09","2020-10","2020-11","2020-12","2021-01","2021-02","2021-03","2021-04","2021-05","2021-06","2021-07","2021-08","2021-09","2021-10","2021-11","2021-12","2022-01","2022-02","2022-03","2022-04","2022-05","2022-06","2022-07","2022-08","2022-09","2022-10","2022-11","2022-12"],"paddingInner":0.09,"paddingOuter":0.05},"axis":{"title":null,"labels":false,"grid":true,"gridDash":[4,2],"gridColor":"#e8e8e8"}},"y":{"field":"v","type":"quantitative","scale":{"domain":[-111,131],"nice":false},"axis":{"title":null,"values":[-100,-50,0,50,100],"labels":false,"grid":true,"gridDash":[4,2],"gridColor":"#ececec"}},"color":{"field":"yr","type":"nominal","scale":{"domain":["2019","2020","2021","2022"],"range":["#262626","#ff0000","#0000ff","#006400"]},"legend":null}}},
{"data":{"values":[{}]},"mark":{"type":"rule","color":"#000000","strokeWidth":3,"strokeDash":[3,3]},"encoding":{"x":{"datum":"2020-10","type":"ordinal","bandPosition":0.95,"axis":null},"y":{"datum":131,"type":"quantitative","axis":{"title":null,"values":[-75,-25,25,75],"labels":false,"grid":true,"gridColor":"#e2e2e2","orient":"left"}},"y2":{"datum":-126}}}
],"resolve":{"axis":{"x":"independent","y":"independent"}}},
{"width":565,"height":229,"data":{"name":"p22"},"layer":[
{"mark":{"type":"bar","stroke":"#ffffff","strokeWidth":0.8,"strokeOpacity":0.7},"encoding":{"x":{"field":"m","type":"ordinal","scale":{"domain":["2019-01","2019-02","2019-03","2019-04","2019-05","2019-06","2019-07","2019-08","2019-09","2019-10","2019-11","2019-12","2020-01","2020-02","2020-03","2020-04","2020-05","2020-06","2020-07","2020-08","2020-09","2020-10","2020-11","2020-12","2021-01","2021-02","2021-03","2021-04","2021-05","2021-06","2021-07","2021-08","2021-09","2021-10","2021-11","2021-12","2022-01","2022-02","2022-03","2022-04","2022-05","2022-06","2022-07","2022-08","2022-09","2022-10","2022-11","2022-12"],"paddingInner":0.09,"paddingOuter":0.05},"axis":{"title":null,"labels":false,"grid":true,"gridDash":[4,2],"gridColor":"#e8e8e8"}},"y":{"field":"v","type":"quantitative","scale":{"domain":[-111,131],"nice":false},"axis":{"title":null,"values":[-100,-50,0,50,100],"labels":false,"grid":true,"gridDash":[4,2],"gridColor":"#ececec"}},"color":{"field":"yr","type":"nominal","scale":{"domain":["2019","2020","2021","2022"],"range":["#262626","#ff0000","#0000ff","#006400"]},"legend":null}}},
{"data":{"values":[{}]},"mark":{"type":"rule","color":"#000000","strokeWidth":3,"strokeDash":[3,3]},"encoding":{"x":{"datum":"2020-10","type":"ordinal","bandPosition":0.95,"axis":null},"y":{"datum":131,"type":"quantitative","axis":{"title":null,"values":[-75,-25,25,75],"labels":false,"grid":true,"gridColor":"#e2e2e2","orient":"left"}},"y2":{"datum":-126}}}
],"resolve":{"axis":{"x":"independent","y":"independent"}}},
{"width":565,"height":229,"data":{"name":"p32"},"layer":[
{"mark":{"type":"bar","stroke":"#ffffff","strokeWidth":0.8,"strokeOpacity":0.7},"encoding":{"x":{"field":"m","type":"ordinal","scale":{"domain":["2019-01","2019-02","2019-03","2019-04","2019-05","2019-06","2019-07","2019-08","2019-09","2019-10","2019-11","2019-12","2020-01","2020-02","2020-03","2020-04","2020-05","2020-06","2020-07","2020-08","2020-09","2020-10","2020-11","2020-12","2021-01","2021-02","2021-03","2021-04","2021-05","2021-06","2021-07","2021-08","2021-09","2021-10","2021-11","2021-12","2022-01","2022-02","2022-03","2022-04","2022-05","2022-06","2022-07","2022-08","2022-09","2022-10","2022-11","2022-12"],"paddingInner":0.09,"paddingOuter":0.05},"axis":{"title":null,"labels":false,"grid":true,"gridDash":[4,2],"gridColor":"#e8e8e8"}},"y":{"field":"v","type":"quantitative","scale":{"domain":[-111,131],"nice":false},"axis":{"title":null,"values":[-100,-50,0,50,100],"labels":false,"grid":true,"gridDash":[4,2],"gridColor":"#ececec"}},"color":{"field":"yr","type":"nominal","scale":{"domain":["2019","2020","2021","2022"],"range":["#262626","#ff0000","#0000ff","#006400"]},"legend":null}}},
{"data":{"values":[{}]},"mark":{"type":"rule","color":"#000000","strokeWidth":3,"strokeDash":[3,3]},"encoding":{"x":{"datum":"2020-10","type":"ordinal","bandPosition":0.95,"axis":null},"y":{"datum":131,"type":"quantitative","axis":{"title":null,"values":[-75,-25,25,75],"labels":false,"grid":true,"gridColor":"#e2e2e2","orient":"left"}},"y2":{"datum":-126}}}
],"resolve":{"axis":{"x":"independent","y":"independent"}}},
{"width":565,"height":229,"data":{"name":"p42"},"layer":[
{"mark":{"type":"bar","stroke":"#ffffff","strokeWidth":0.8,"strokeOpacity":0.7},"encoding":{"x":{"field":"m","type":"ordinal","scale":{"domain":["2019-01","2019-02","2019-03","2019-04","2019-05","2019-06","2019-07","2019-08","2019-09","2019-10","2019-11","2019-12","2020-01","2020-02","2020-03","2020-04","2020-05","2020-06","2020-07","2020-08","2020-09","2020-10","2020-11","2020-12","2021-01","2021-02","2021-03","2021-04","2021-05","2021-06","2021-07","2021-08","2021-09","2021-10","2021-11","2021-12","2022-01","2022-02","2022-03","2022-04","2022-05","2022-06","2022-07","2022-08","2022-09","2022-10","2022-11","2022-12"],"paddingInner":0.09,"paddingOuter":0.05},"axis":{"title":null,"labelExpr":"'' + toNumber(slice(datum.value,5))","labelAngle":-45,"labelAlign":"right","labelBaseline":"middle","labelFontSize":11,"labelPadding":20,"grid":true,"gridDash":[4,2],"gridColor":"#e8e8e8"}},"y":{"field":"v","type":"quantitative","scale":{"domain":[-111,131],"nice":false},"axis":{"title":null,"values":[-100,-50,0,50,100],"labels":false,"grid":true,"gridDash":[4,2],"gridColor":"#ececec"}},"color":{"field":"yr","type":"nominal","scale":{"domain":["2019","2020","2021","2022"],"range":["#262626","#ff0000","#0000ff","#006400"]},"legend":null}}},
{"data":{"values":[{}]},"mark":{"type":"rule","color":"#000000","strokeWidth":3,"strokeDash":[3,3]},"encoding":{"x":{"datum":"2020-10","type":"ordinal","bandPosition":0.95,"axis":{"orient":"bottom","grid":false,"labelExpr":"slice(datum.value,5)=='07' ? slice(datum.value,0,4) : ''","labelAngle":0,"labelPadding":41,"labelDx":-5.9,"labelFontSize":13,"title":["Births planned during","pandemic"],"titleFont":"DejaVu Serif","titleFontSize":20,"titleFontWeight":"normal","titleColor":"#000000","titleAlign":"left","titleX":283,"titleY":70,"titleBaseline":"top","titleLineHeight":32}},"y":{"datum":131,"type":"quantitative","axis":{"title":null,"values":[-75,-25,25,75],"labels":false,"grid":true,"gridColor":"#e2e2e2","orient":"left"}},"y2":{"datum":-239}}}
],"resolve":{"axis":{"x":"independent","y":"independent"}}}
],"spacing":14,"bounds":"flush"}
],"spacing":0,"bounds":"flush"},
{"hconcat":[
{"vconcat":[
{"width":565,"height":41,"data":{"values":[{"t":"12+"}]},"mark":{"type":"text","fontSize":20,"color":"#1a1a1a"},"encoding":{"text":{"field":"t","type":"nominal"}},"view":{"stroke":"#4d4d4d","strokeWidth":1.2,"fill":"#ffffff"}},
{"vconcat":[
{"width":565,"height":229,"data":{"name":"p13"},"layer":[
{"mark":{"type":"bar","stroke":"#ffffff","strokeWidth":0.8,"strokeOpacity":0.7},"encoding":{"x":{"field":"m","type":"ordinal","scale":{"domain":["2019-01","2019-02","2019-03","2019-04","2019-05","2019-06","2019-07","2019-08","2019-09","2019-10","2019-11","2019-12","2020-01","2020-02","2020-03","2020-04","2020-05","2020-06","2020-07","2020-08","2020-09","2020-10","2020-11","2020-12","2021-01","2021-02","2021-03","2021-04","2021-05","2021-06","2021-07","2021-08","2021-09","2021-10","2021-11","2021-12","2022-01","2022-02","2022-03","2022-04","2022-05","2022-06","2022-07","2022-08","2022-09","2022-10","2022-11","2022-12"],"paddingInner":0.09,"paddingOuter":0.05},"axis":{"title":null,"labels":false,"grid":true,"gridDash":[4,2],"gridColor":"#e8e8e8"}},"y":{"field":"v","type":"quantitative","scale":{"domain":[-111,131],"nice":false},"axis":{"title":null,"values":[-100,-50,0,50,100],"labels":false,"grid":true,"gridDash":[4,2],"gridColor":"#ececec"}},"color":{"field":"yr","type":"nominal","scale":{"domain":["2019","2020","2021","2022"],"range":["#262626","#ff0000","#0000ff","#006400"]},"legend":null}}},
{"data":{"values":[{}]},"mark":{"type":"rule","color":"#000000","strokeWidth":3,"strokeDash":[3,3]},"encoding":{"x":{"datum":"2020-10","type":"ordinal","bandPosition":0.95,"axis":null},"y":{"datum":131,"type":"quantitative","axis":{"title":null,"values":[-75,-25,25,75],"labels":false,"grid":true,"gridColor":"#e2e2e2","orient":"left"}},"y2":{"datum":-126}}}
],"resolve":{"axis":{"x":"independent","y":"independent"}}},
{"width":565,"height":229,"data":{"name":"p23"},"layer":[
{"mark":{"type":"bar","stroke":"#ffffff","strokeWidth":0.8,"strokeOpacity":0.7},"encoding":{"x":{"field":"m","type":"ordinal","scale":{"domain":["2019-01","2019-02","2019-03","2019-04","2019-05","2019-06","2019-07","2019-08","2019-09","2019-10","2019-11","2019-12","2020-01","2020-02","2020-03","2020-04","2020-05","2020-06","2020-07","2020-08","2020-09","2020-10","2020-11","2020-12","2021-01","2021-02","2021-03","2021-04","2021-05","2021-06","2021-07","2021-08","2021-09","2021-10","2021-11","2021-12","2022-01","2022-02","2022-03","2022-04","2022-05","2022-06","2022-07","2022-08","2022-09","2022-10","2022-11","2022-12"],"paddingInner":0.09,"paddingOuter":0.05},"axis":{"title":null,"labels":false,"grid":true,"gridDash":[4,2],"gridColor":"#e8e8e8"}},"y":{"field":"v","type":"quantitative","scale":{"domain":[-111,131],"nice":false},"axis":{"title":null,"values":[-100,-50,0,50,100],"labels":false,"grid":true,"gridDash":[4,2],"gridColor":"#ececec"}},"color":{"field":"yr","type":"nominal","scale":{"domain":["2019","2020","2021","2022"],"range":["#262626","#ff0000","#0000ff","#006400"]},"legend":null}}},
{"data":{"values":[{}]},"mark":{"type":"rule","color":"#000000","strokeWidth":3,"strokeDash":[3,3]},"encoding":{"x":{"datum":"2020-10","type":"ordinal","bandPosition":0.95,"axis":null},"y":{"datum":131,"type":"quantitative","axis":{"title":null,"values":[-75,-25,25,75],"labels":false,"grid":true,"gridColor":"#e2e2e2","orient":"left"}},"y2":{"datum":-126}}}
],"resolve":{"axis":{"x":"independent","y":"independent"}}},
{"width":565,"height":229,"data":{"name":"p33"},"layer":[
{"mark":{"type":"bar","stroke":"#ffffff","strokeWidth":0.8,"strokeOpacity":0.7},"encoding":{"x":{"field":"m","type":"ordinal","scale":{"domain":["2019-01","2019-02","2019-03","2019-04","2019-05","2019-06","2019-07","2019-08","2019-09","2019-10","2019-11","2019-12","2020-01","2020-02","2020-03","2020-04","2020-05","2020-06","2020-07","2020-08","2020-09","2020-10","2020-11","2020-12","2021-01","2021-02","2021-03","2021-04","2021-05","2021-06","2021-07","2021-08","2021-09","2021-10","2021-11","2021-12","2022-01","2022-02","2022-03","2022-04","2022-05","2022-06","2022-07","2022-08","2022-09","2022-10","2022-11","2022-12"],"paddingInner":0.09,"paddingOuter":0.05},"axis":{"title":null,"labels":false,"grid":true,"gridDash":[4,2],"gridColor":"#e8e8e8"}},"y":{"field":"v","type":"quantitative","scale":{"domain":[-111,131],"nice":false},"axis":{"title":null,"values":[-100,-50,0,50,100],"labels":false,"grid":true,"gridDash":[4,2],"gridColor":"#ececec"}},"color":{"field":"yr","type":"nominal","scale":{"domain":["2019","2020","2021","2022"],"range":["#262626","#ff0000","#0000ff","#006400"]},"legend":null}}},
{"data":{"values":[{}]},"mark":{"type":"rule","color":"#000000","strokeWidth":3,"strokeDash":[3,3]},"encoding":{"x":{"datum":"2020-10","type":"ordinal","bandPosition":0.95,"axis":null},"y":{"datum":131,"type":"quantitative","axis":{"title":null,"values":[-75,-25,25,75],"labels":false,"grid":true,"gridColor":"#e2e2e2","orient":"left"}},"y2":{"datum":-126}}}
],"resolve":{"axis":{"x":"independent","y":"independent"}}},
{"width":565,"height":229,"data":{"name":"p43"},"layer":[
{"mark":{"type":"bar","stroke":"#ffffff","strokeWidth":0.8,"strokeOpacity":0.7},"encoding":{"x":{"field":"m","type":"ordinal","scale":{"domain":["2019-01","2019-02","2019-03","2019-04","2019-05","2019-06","2019-07","2019-08","2019-09","2019-10","2019-11","2019-12","2020-01","2020-02","2020-03","2020-04","2020-05","2020-06","2020-07","2020-08","2020-09","2020-10","2020-11","2020-12","2021-01","2021-02","2021-03","2021-04","2021-05","2021-06","2021-07","2021-08","2021-09","2021-10","2021-11","2021-12","2022-01","2022-02","2022-03","2022-04","2022-05","2022-06","2022-07","2022-08","2022-09","2022-10","2022-11","2022-12"],"paddingInner":0.09,"paddingOuter":0.05},"axis":{"title":null,"labelExpr":"'' + toNumber(slice(datum.value,5))","labelAngle":-45,"labelAlign":"right","labelBaseline":"middle","labelFontSize":11,"labelPadding":20,"grid":true,"gridDash":[4,2],"gridColor":"#e8e8e8"}},"y":{"field":"v","type":"quantitative","scale":{"domain":[-111,131],"nice":false},"axis":{"title":null,"values":[-100,-50,0,50,100],"labels":false,"grid":true,"gridDash":[4,2],"gridColor":"#ececec"}},"color":{"field":"yr","type":"nominal","scale":{"domain":["2019","2020","2021","2022"],"range":["#262626","#ff0000","#0000ff","#006400"]},"legend":null}}},
{"data":{"values":[{}]},"mark":{"type":"rule","color":"#000000","strokeWidth":3,"strokeDash":[3,3]},"encoding":{"x":{"datum":"2020-10","type":"ordinal","bandPosition":0.95,"axis":{"orient":"bottom","grid":false,"labelExpr":"slice(datum.value,5)=='07' ? slice(datum.value,0,4) : ''","labelAngle":0,"labelPadding":41,"labelDx":-5.9,"labelFontSize":13,"title":["Births planned during","pandemic"],"titleFont":"DejaVu Serif","titleFontSize":20,"titleFontWeight":"normal","titleColor":"#000000","titleAlign":"left","titleX":283,"titleY":70,"titleBaseline":"top","titleLineHeight":32}},"y":{"datum":131,"type":"quantitative","axis":{"title":null,"values":[-75,-25,25,75],"labels":false,"grid":true,"gridColor":"#e2e2e2","orient":"left"}},"y2":{"datum":-239}}}
],"resolve":{"axis":{"x":"independent","y":"independent"}}}
],"spacing":14,"bounds":"flush"}
],"spacing":0,"bounds":"flush"},
{"vconcat":[
{"width":43,"height":41,"data":{"values":[{"t":""}]},"mark":{"type":"text","fontSize":1},"encoding":{"text":{"field":"t","type":"nominal"}}},
{"vconcat":[
{"width":43,"height":229,"data":{"values":[{"t":"15-19"}]},"mark":{"type":"text","fontSize":20,"angle":90,"color":"#1a1a1a"},"encoding":{"text":{"field":"t","type":"nominal"}},"view":{"stroke":"#4d4d4d","strokeWidth":1.2,"fill":"#ffffff"}},
{"width":43,"height":229,"data":{"values":[{"t":"20-24"}]},"mark":{"type":"text","fontSize":20,"angle":90,"color":"#1a1a1a"},"encoding":{"text":{"field":"t","type":"nominal"}},"view":{"stroke":"#4d4d4d","strokeWidth":1.2,"fill":"#ffffff"}},
{"width":43,"height":229,"data":{"values":[{"t":"35-39"}]},"mark":{"type":"text","fontSize":20,"angle":90,"color":"#1a1a1a"},"encoding":{"text":{"field":"t","type":"nominal"}},"view":{"stroke":"#4d4d4d","strokeWidth":1.2,"fill":"#ffffff"}},
{"width":43,"height":229,"data":{"values":[{"t":"40+"}]},"mark":{"type":"text","fontSize":20,"angle":90,"color":"#1a1a1a"},"encoding":{"text":{"field":"t","type":"nominal"}},"view":{"stroke":"#4d4d4d","strokeWidth":1.2,"fill":"#ffffff"},"title":{"text":"8","orient":"bottom","anchor":"end","fontSize":22,"font":"DejaVu Serif","offset":104}}
],"spacing":14,"bounds":"flush"}
],"spacing":0,"bounds":"flush"}
],"spacing":0}
],
"spacing":10.5
}
